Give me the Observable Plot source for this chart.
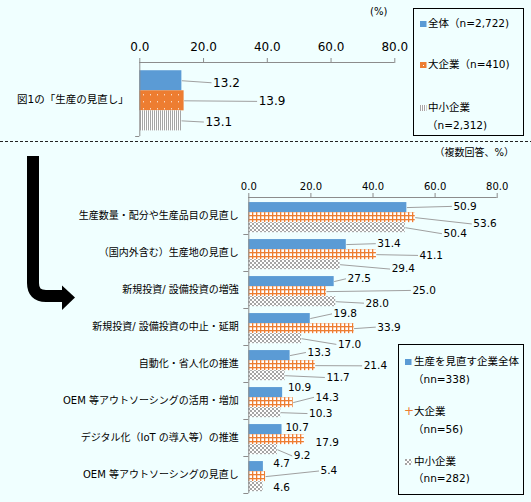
<!DOCTYPE html>
<html>
<head>
<meta charset="utf-8">
<script src="https://cdn.jsdelivr.net/npm/d3@7"></script>
<script src="https://cdn.jsdelivr.net/npm/@observablehq/plot@0.6"></script>
<style>
  html, body { margin: 0; padding: 0; background: #f0ffff; }
  #root { position: relative; width: 531px; height: 502px; overflow: hidden;
          font-family: "DejaVu Sans", "Noto Sans CJK JP", sans-serif; color: #000; }
  .abs { position: absolute; white-space: nowrap; line-height: 1; }
  .box { position: absolute; border: 1px solid #000; box-sizing: border-box; }
  .sw { position: absolute; }
</style>
</head>
<body>
<div id="root">
  <svg width="0" height="0" style="position:absolute">
    <defs>
      <pattern id="pDots" patternUnits="userSpaceOnUse" width="7" height="7">
        <rect width="7" height="7" fill="#ed7d31"/>
        <rect x="3" y="3" width="1" height="1" fill="#ffffff"/>
      </pattern>
      <pattern id="pStripes" patternUnits="userSpaceOnUse" width="2" height="2">
        <rect width="2" height="2" fill="#ffffff"/>
        <rect width="1" height="2" fill="#a5a5a5"/>
      </pattern>
      <pattern id="pGrid" patternUnits="userSpaceOnUse" width="4" height="4">
        <rect width="4" height="4" fill="#ffffff"/>
        <rect width="4" height="1.3" fill="#ed7d31"/>
        <rect width="1.3" height="4" fill="#ed7d31"/>
      </pattern>
      <pattern id="pCheck" patternUnits="userSpaceOnUse" width="4" height="4">
        <rect width="4" height="4" fill="#ffffff"/>
        <rect width="2" height="2" fill="#a5a5a5"/>
        <rect x="2" y="2" width="2" height="2" fill="#a5a5a5"/>
      </pattern>
    </defs>
  </svg>

  <div id="topChart" style="position:absolute; left:0; top:0;"></div>
  <div id="bottomChart" style="position:absolute; left:0; top:143px;"></div>

  <svg width="531" height="502" style="position:absolute; left:0; top:0; pointer-events:none;">
    <line x1="0" y1="141.5" x2="531" y2="141.5" stroke="#222" stroke-width="1" stroke-dasharray="3,2"/>
    <path d="M33,156 V283 Q33,296 46,296 H63" fill="none" stroke="#000" stroke-width="12"/>
    <path d="M62,285.5 L75,297.5 L62,310 Z" fill="#000"/>
  </svg>

  <div class="abs" style="left:370px; top:7px; font-size:10px;">(%)</div>
  <div class="abs" id="multi" style="right:17px; top:148px; font-size:10px;">（複数回答、%）</div>

  <!-- top legend -->
  <div class="box" style="left:413px; top:8px; width:111px; height:128px;"></div>
  <div id="legTop"></div>
  <!-- bottom legend -->
  <div class="box" style="left:398px; top:344px; width:126px; height:151px;"></div>
  <div id="legBottom"></div>
</div>

<script>
// ---------- data : top panel (図1) ----------
const topCategory = "図1の「生産の見直し」";
const topSeries = ["全体", "大企業", "中小企業"];
const topLegendLines = [["全体（n=2,722)"], ["大企業（n=410)"], ["中小企業", "（n=2,312)"]];
const topValues = [13.2, 13.9, 13.1];
const topLabelX = [23.0, 37.3, 20.6];        // label anchor (x units)
const topLabelShift = [0.1, 0.03, 0.06];     // label vertical shift (bar units)

// ---------- data : bottom panel ----------
const categories = [
  "生産数量・配分や生産品目の見直し",
  "（国内外含む）生産地の見直し",
  "新規投資/ 設備投資の増強",
  "新規投資/ 設備投資の中止・延期",
  "自動化・省人化の推進",
  "OEM 等アウトソーシングの活用・増加",
  "デジタル化（IoT の導入等）の推進",
  "OEM 等アウトソーシングの見直し"
];
const bottomLegendLines = [["生産を見直す企業全体", "（nn=338)"], ["大企業", "（nn=56)"], ["中小企業", "（nn=282)"]];
const totalValues = [50.9, 31.4, 27.5, 19.8, 13.3, 10.9, 10.7, 4.7];
const largeValues = [53.6, 41.1, 25.0, 33.9, 21.4, 14.3, 17.9, 5.4];
const smeValues   = [50.4, 29.4, 28.0, 17.0, 11.7, 10.3, 9.2, 4.6];
const totalLabelX = [65.9, 41.4, 31.8, 27.3, 18.9, 12.6, 11.8, 7.9];
const largeLabelX = [72.3, 55.0, 52.7, 41.4, 37.0, 21.5, 21.5, 23.1];
const smeLabelX   = [62.7, 46.0, 37.6, 28.7, 25.0, 19.4, 14.5, 7.9];
const totalShift  = [-0.12, -0.09, -0.28, -0.47, -0.31, -0.50, -0.24, -0.27];
const largeShift  = [0.63, 0.08, -0.12, -0.15, 0.02, -0.53, 0.34, -0.56];
const smeShift    = [0.60, 0.44, 0.15, 0.57, 0.18, 0.09, 0.63, 0.06];

const xTicks = [0, 20, 40, 60, 80];
const fmt = d3.format(".1f");
const axisGray = "#8c8c8c";
const leaderGray = "#a0a0a0";
const topFills = ["#5b9bd5", "url(#pDots)", "url(#pStripes)"];
const bottomFills = ["#5b9bd5", "url(#pGrid)", "url(#pCheck)"];
const FONT = '"DejaVu Sans", "Noto Sans CJK JP", sans-serif';

// ---------- build rows ----------
const topRows = topSeries.map((s, i) => ({
  cat: topCategory, s: i, value: topValues[i], lx: topLabelX[i], ly: i + 0.5 + topLabelShift[i]
}));
const bottomRows = [];
categories.forEach((c, k) => {
  [[totalValues, totalLabelX, totalShift], [largeValues, largeLabelX, largeShift], [smeValues, smeLabelX, smeShift]]
    .forEach(([v, lx, sh], s) => bottomRows.push({cat: c, s, value: v[k], lx: lx[k], ly: s + 0.5 + sh[k]}));
});

function panel({rows, cats, fills, width, height, margins, yDomain, tickFont, tickPad, labelFont, catFont, catPad, tickLen}) {
  const marks = [];
  fills.forEach((f, s) => {
    marks.push(Plot.rect(rows.filter(d => d.s === s), {
      x1: () => 0, x2: "value", y1: d => d.s, y2: d => d.s + 1, fy: "cat", fill: f
    }));
  });
  marks.push(
    Plot.ruleX([0], {stroke: axisGray}),
    Plot.ruleY([cats[0]], {fy: d => d, y: () => yDomain[0], x1: () => 0, x2: () => 80, stroke: axisGray}),
    Plot.ruleY(cats, {fy: d => d, y: () => yDomain[1], x1: () => -tickLen, x2: () => 0, stroke: axisGray}),
    Plot.link(rows.filter(d => d.lx - d.value > 4), {
      x1: "value", y1: d => d.s + 0.5, x2: d => d.lx - 0.5, y2: "ly", fy: "cat",
      stroke: leaderGray, strokeWidth: 1
    }),
    Plot.text(rows, {
      x: "lx", y: "ly", fy: "cat", text: d => fmt(d.value), textAnchor: "start",
      fontSize: labelFont, fill: "#000"
    }),
    Plot.axisX({anchor: "top", ticks: xTicks, tickFormat: fmt, tickSize: 5, tickPadding: tickPad,
      fontSize: tickFont, stroke: axisGray, fill: "#000", label: null}),
    Plot.axisFy({anchor: "left", tickSize: 0, tickPadding: catPad, fontSize: catFont, fill: "#000", label: null})
  );
  return Plot.plot({
    width, height,
    marginLeft: margins[0], marginRight: margins[1], marginTop: margins[2], marginBottom: margins[3],
    style: {background: "transparent", fontFamily: FONT, overflow: "visible", color: "#000"},
    x: {domain: [0, 80], axis: null},
    y: {domain: yDomain, reverse: true, axis: null},
    fy: {domain: cats, padding: 0, axis: null},
    marks
  });
}

const topChart = panel({
  rows: topRows, cats: [topCategory], fills: topFills,
  width: 400, height: 140, margins: [139.3, 5.7, 61.7, 3.3],
  yDomain: [-0.41, 3.28], tickFont: 12, tickPad: 6.7, labelFont: 12, catFont: 10.5, catPad: 11, tickLen: 1.3
});
document.getElementById("topChart").appendChild(topChart);

const bottomChart = panel({
  rows: bottomRows, cats: categories, fills: bottomFills,
  width: 531, height: 357, margins: [248.3, 34.3, 50, 3.3],
  yDomain: [-0.505, 3.18], tickFont: 10, tickPad: 3, labelFont: 10.5, catFont: 10, catPad: 10, tickLen: 1.6
});
document.getElementById("bottomChart").appendChild(bottomChart);

// ---------- legends ----------
function swatch(fill, x, y, w, h) {
  return `<svg class="sw" style="left:${x}px; top:${y}px" width="${w}" height="${h}"><rect width="${w}" height="${h}" fill="${fill}"/></svg>`;
}
function legend(el, lines, fills, cfg) {
  let html = "";
  lines.forEach((ls, i) => {
    const y0 = cfg.rows[i][0];
    if (i === 1 && cfg.plus) {
      html += `<div class="abs" style="left:${cfg.swX - 1}px; top:${y0 - 7}px; font-size:12px; color:#ed7d31;">+</div>`;
    } else {
      html += swatch(fills[i], cfg.swX, y0 - cfg.sw / 2, cfg.sw, cfg.sw);
    }
    ls.forEach((t, j) => {
      const x = j === 0 ? cfg.textX : cfg.indentX;
      html += `<div class="abs" style="left:${x}px; top:${cfg.rows[i][j] - cfg.font * 0.6}px; font-size:${cfg.font}px;">${t}</div>`;
    });
  });
  document.getElementById(el).innerHTML = html;
}
legend("legTop", topLegendLines, topFills, {
  swX: 420, sw: 6.5, textX: 428, indentX: 427, font: 10.5,
  rows: [[24], [65], [108, 126]]
});
legend("legBottom", bottomLegendLines, ["#5b9bd5", "url(#pGrid)", "url(#pCheck)"], {
  swX: 405, sw: 6.5, textX: 414, indentX: 413, font: 10.5, plus: true,
  rows: [[362, 380], [412, 430], [462, 479]]
});
</script>
</body>
</html>
